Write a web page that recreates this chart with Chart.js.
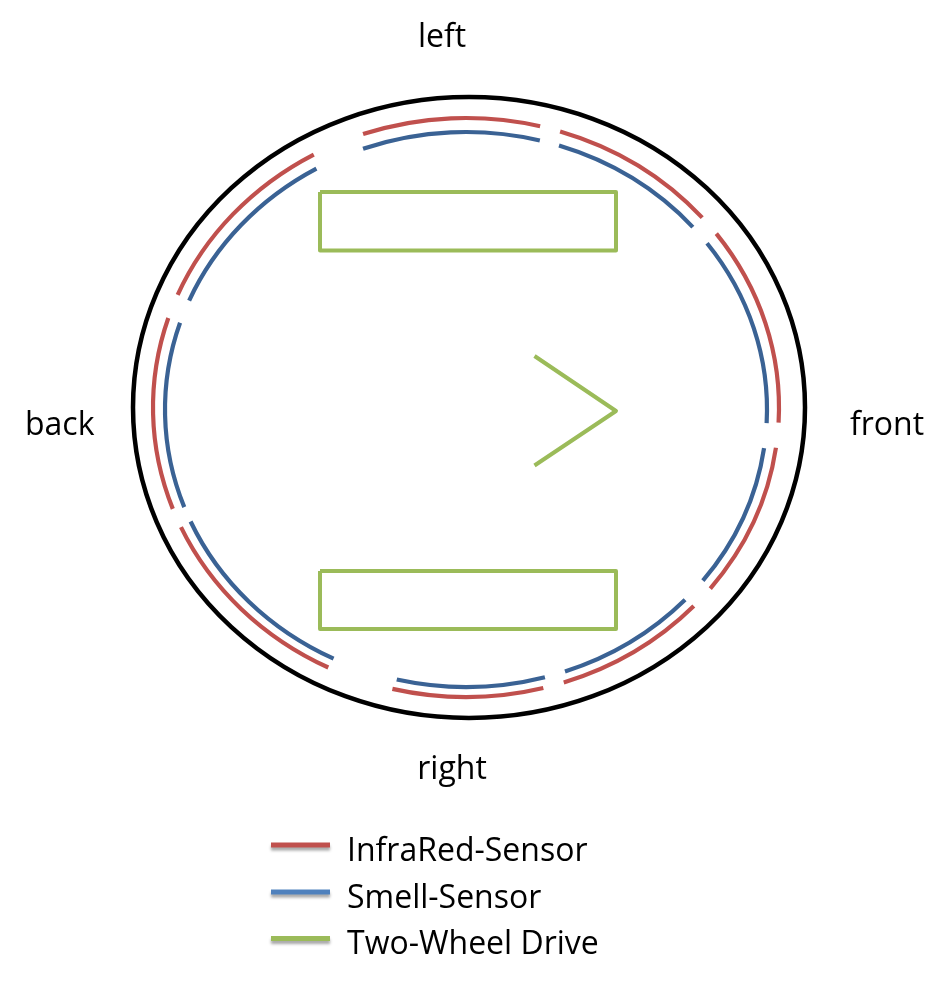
<!DOCTYPE html>
<html>
<head>
<meta charset="utf-8">
<title>Robot sensor layout</title>
<script src="https://cdn.jsdelivr.net/npm/chart.js@4.4.1/dist/chart.umd.min.js"></script>
<style>
  html, body { margin: 0; padding: 0; background: #fff; }
  #wrap { position: relative; width: 950px; height: 984px; }
</style>
</head>
<body>
<div id="wrap"><canvas id="robotChart"></canvas></div>
<script>
// ---- data (drawing units = the 950 x 984 frame) ----
var sideLabels = ['left', 'back', 'front', 'right'];
var legendLabels = ['InfraRed-Sensor', 'Smell-Sensor', 'Two-Wheel Drive'];

// ellipses: [centerX, centerY, radiusX, radiusY]
var hullEllipse = [469, 407.5, 336, 310.5];
var infraRedEllipse = [466, 407.5, 313, 289.5];
var smellEllipse = [466, 409.5, 301, 277.5];

// sensor arcs, degrees clockwise from "front"
var infraRedArcs = [[8, 38.7], [43.3, 71.8], [75.7, 103.6], [116.1, 155.6], [159.5, 198], [202.9, 240.9], [250.8, 283.7], [287.5, 319], [323.1, 363]];
var smellArcs = [[8, 38.1], [43.3, 70.8], [74.8, 103.3], [116.1, 156.2], [159.4, 198.2], [203.1, 240.2], [250, 284.2], [288, 318.9], [323.2, 362.8]];

// drive: two wheels and the heading chevron
var wheelTop = [{x: 320, y: 192}, {x: 616, y: 192}, {x: 616, y: 250.5}, {x: 320, y: 250.5}, {x: 320, y: 192}];
var wheelBottom = [{x: 320, y: 571}, {x: 616, y: 571}, {x: 616, y: 629}, {x: 320, y: 629}, {x: 320, y: 571}];
var chevron = [{x: 534.5, y: 356}, {x: 616, y: 411}, {x: 534.5, y: 465.5}];

var RED = '#C0504D';
var BLUE = '#3A6294';
var BLUE_LEGEND = '#4F81BD';
var GREEN = '#9BBB59';
var FONT = '32px "Open Sans", "Noto Sans", sans-serif';

function driveSet(points) {
  return {
    label: 'Two-Wheel Drive',
    data: points,
    showLine: true,
    borderColor: GREEN,
    borderWidth: 4,
    borderJoinStyle: 'round',
    pointRadius: 0,
    tension: 0
  };
}

var ellipsePlugin = {
  id: 'ellipses',
  beforeDatasetsDraw: function(chart) {
    var ctx = chart.ctx;
    var xs = chart.scales.x, ys = chart.scales.y;

    function arc(e, a0, a1, color, width) {
      var px = xs.getPixelForValue(e[0]);
      var py = ys.getPixelForValue(e[1]);
      var rx = Math.abs(xs.getPixelForValue(e[0] + e[2]) - px);
      var ry = Math.abs(ys.getPixelForValue(e[1] + e[3]) - py);
      ctx.beginPath();
      ctx.ellipse(px, py, rx, ry, 0, a0 * Math.PI / 180, a1 * Math.PI / 180);
      ctx.strokeStyle = color;
      ctx.lineWidth = width;
      ctx.stroke();
    }

    ctx.save();
    ctx.lineCap = 'butt';
    arc(hullEllipse, 0, 360, '#000', 4.5);
    infraRedArcs.forEach(function(a) { arc(infraRedEllipse, a[0], a[1], RED, 4.2); });
    smellArcs.forEach(function(a) { arc(smellEllipse, a[0], a[1], BLUE, 4.2); });
    ctx.restore();
  }
};

var textPlugin = {
  id: 'texts',
  afterDatasetsDraw: function(chart) {
    var ctx = chart.ctx;
    ctx.save();
    ctx.font = FONT;
    ctx.fillStyle = '#000';
    ctx.textBaseline = 'alphabetic';

    // side labels
    ctx.textAlign = 'center';
    ctx.fillText(sideLabels[0], 442, 47);
    ctx.fillText(sideLabels[3], 452, 779);
    ctx.textAlign = 'left';
    ctx.fillText(sideLabels[1], 25, 435);
    ctx.fillText(sideLabels[2], 850, 435);

    // legend
    var colors = [RED, BLUE_LEGEND, GREEN];
    var baselines = [860.5, 907.5, 954];
    for (var i = 0; i < legendLabels.length; i++) {
      var ly = baselines[i] - 15.5;
      ctx.save();
      ctx.shadowColor = 'rgba(0,0,0,0.35)';
      ctx.shadowOffsetY = 3;
      ctx.shadowBlur = 3;
      ctx.strokeStyle = colors[i];
      ctx.lineWidth = 5;
      ctx.beginPath();
      ctx.moveTo(271, ly);
      ctx.lineTo(330, ly);
      ctx.stroke();
      ctx.restore();
      ctx.fillText(legendLabels[i], 347, baselines[i]);
    }
    ctx.restore();
  }
};

var ctx = document.getElementById('robotChart');

var robotChart = new Chart(ctx, {
  type: 'scatter',
  data: {
    datasets: [driveSet(wheelTop), driveSet(wheelBottom), driveSet(chevron)]
  },
  options: {
    responsive: true,
    maintainAspectRatio: false,
    animation: false,
    layout: { padding: 0 },
    scales: {
      x: { type: 'linear', min: 0, max: 950, display: false },
      y: { type: 'linear', min: 0, max: 984, reverse: true, display: false }
    },
    plugins: {
      legend: { display: false },
      tooltip: { enabled: false }
    }
  },
  plugins: [ellipsePlugin, textPlugin]
});
</script>
</body>
</html>
